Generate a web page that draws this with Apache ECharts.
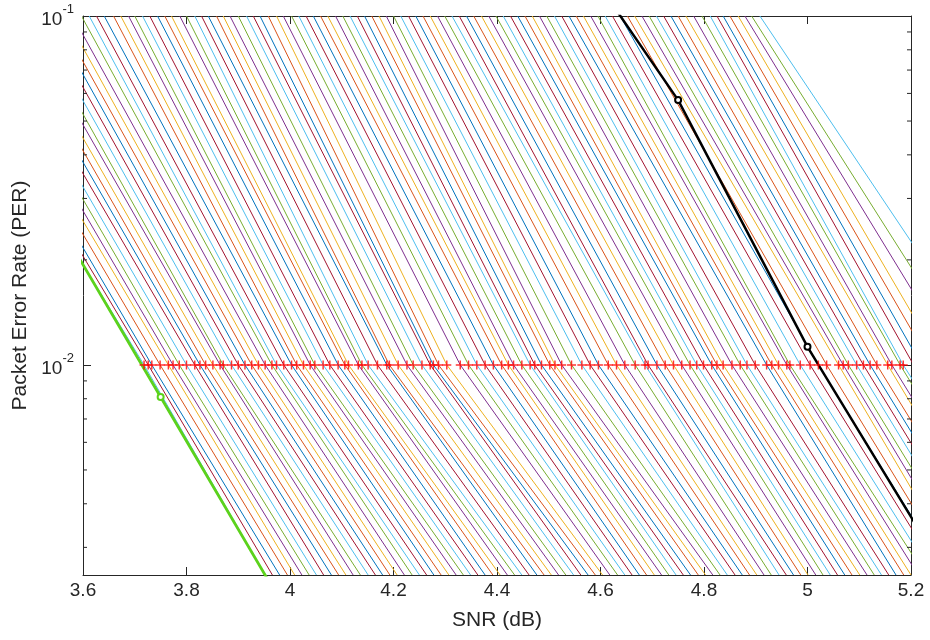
<!DOCTYPE html>
<html>
<head>
<meta charset="utf-8">
<script src="https://cdn.jsdelivr.net/npm/echarts/dist/echarts.min.js"></script>
<style>
html,body{margin:0;padding:0;background:#fff;}
#chart{width:930px;height:640px;}
</style>
</head>
<body>
<div id="chart"></div>
<script>
// ===== data =====
// each curve: SNR where it crosses PER = 0.1, 0.01 (red +) and 0.0025
const perTop = 0.1, perMid = 0.01, perBot = 0.0025;

const snrTop = [3.308,3.322,3.337,3.351,3.365,3.380,3.394,3.408,3.422,3.437,3.451,3.465,3.480,3.494,3.508,3.523,3.537,3.551,3.566,3.580,
  3.597,3.612,3.626,3.641,3.659,3.673,3.688,3.700,3.715,3.729,3.744,3.758,3.771,3.787,3.800,3.816,3.829,3.842,3.858,3.871,3.884,3.900,3.916,3.929,3.942,3.958,3.974,3.987,4.003,
  4.017,4.031,4.045,4.059,4.073,4.088,4.102,4.116,4.130,4.144,4.158,4.172,4.186,4.200,4.214,4.229,4.243,4.257,4.271,4.285,4.299,4.313,4.327,4.341,4.355,4.370,4.384,4.398,4.412,4.426,4.440,4.454,4.468,4.482,4.496,4.511,4.525,4.539,4.553,4.567,4.581,4.595,4.609,4.623,
  4.638,4.652,4.666,4.680,4.694,4.708,4.722,4.736,4.750,4.765,4.780,4.796,
  4.812,4.825,4.837,4.850,4.866,4.879,4.892,4.908];

const snrMid = [3.718,3.726,3.733,3.749,3.765,3.774,3.786,3.800,3.816,3.826,3.837,3.851,3.865,3.871,3.887,3.900,3.913,3.926,3.939,3.952,3.965,3.974,3.988,
  4.003,4.013,4.026,4.039,4.048,4.064,4.077,4.093,4.106,4.113,4.132,4.139,4.151,4.169,4.187,4.192,4.209,4.226,4.238,4.255,4.271,4.277,4.287,4.303,4.329,4.345,4.361,4.377,4.393,
  4.409,4.422,4.432,4.448,4.464,4.473,4.486,4.502,4.512,4.525,4.544,4.564,4.580,4.596,4.615,4.631,4.647,4.667,4.686,4.692,4.709,4.725,4.741,4.757,4.773,4.786,4.799,
  4.815,4.825,4.837,4.854,4.870,4.883,4.899,4.921,4.931,4.944,4.960,4.966,4.986,5.005,5.021,5.037,5.060,5.069,5.079,5.095,5.108,5.121,5.134,5.155,5.163,5.179,5.185,
  5.205,5.22,5.24,5.26,5.29,5.32,5.36];

const snrBot = [3.952,3.966,3.980,3.995,4.009,4.023,4.037,4.051,4.065,4.080,4.094,4.108,4.122,4.136,4.151,4.165,4.179,4.193,4.207,4.221,
  4.236,4.250,4.264,4.278,4.292,4.307,4.321,4.335,4.349,4.363,4.377,4.392,4.406,4.420,4.434,4.448,4.462,4.477,4.491,4.505,
  4.519,4.533,4.548,4.562,4.576,4.590,4.604,4.618,4.633,4.647,4.661,4.675,4.689,4.704,4.718,4.732,4.746,4.760,4.774,4.789,
  4.803,4.817,4.831,4.845,4.860,4.874,4.888,4.902,4.916,4.930,4.945,4.959,4.973,4.987,5.001,5.016,5.030,5.044,5.058,5.072,
  5.086,5.101,5.115,5.129,5.143,5.157,5.171,5.186,5.200,5.214,5.228,5.242,5.257,5.271,5.285,5.299,5.313,5.328,5.342,5.356,
  5.370,5.384,5.398,5.413,5.427,5.441,5.455,5.469,5.484,5.498,5.512,5.526,5.540];

// highlighted curves (markers at 0.25 dB grid)
const bestSnr = [3.5, 3.75, 4.0];
const bestPer = [0.0347, 0.00809, 0.00189];
const refSnr = [4.5, 4.75, 5.0, 5.25];
const refPer = [0.199, 0.0574, 0.01127, 0.00277];

const xTicks = [3.6, 3.8, 4.0, 4.2, 4.4, 4.6, 4.8, 5.0, 5.2];
const minorPer = [0.003,0.004,0.005,0.006,0.007,0.008,0.009,0.02,0.03,0.04,0.05,0.06,0.07,0.08,0.09];

// MATLAB default colour order
const colorOrder = ['#0072BD','#D95319','#EDB120','#7E2F8E','#77AC30','#4DBEEE','#A2142F'];
const axisCol = '#262626';
const FONT = '"Liberation Sans", Arial, Helvetica, sans-serif';

const chart = echarts.init(document.getElementById('chart'));

const series = [];
snrTop.forEach((t, i) => {
    series.push({
        type:'line', silent:true, symbol:'none', clip:true, z:2,
        lineStyle:{width:1, color:colorOrder[(i + 5) % 7]},
        data:[[t, perTop], [snrMid[i], perMid], [snrBot[i], perBot]]
    });
});
series.push({
    type:'line', silent:true, clip:true, z:4,
    symbol:'emptyCircle', symbolSize:6,
    lineStyle:{width:2.8, color:'#5CD21C'},
    itemStyle:{color:'#5CD21C', borderWidth:1.5},
    data: bestSnr.map((s, k) => [s, bestPer[k]])
});
series.push({
    type:'line', silent:true, clip:true, z:4,
    symbol:'emptyCircle', symbolSize:6,
    lineStyle:{width:2.5, color:'#000'},
    itemStyle:{color:'#000', borderWidth:1.5},
    data: refSnr.map((s, k) => [s, refPer[k]])
});
series.push({
    type:'scatter', silent:true, clip:true, z:5,
    symbol:'path://M0,3.35H8V4.65H0ZM3.35,0H4.65V8H3.35Z', symbolSize:9,
    itemStyle:{color:'#FF0000'},
    data: snrMid.map(s => [s, perMid])
});
// minor log ticks on left and right edges
series.push({
    type:'custom', silent:true, z:6, clip:false,
    renderItem: (params, api) => {
        const l = api.coord([xTicks[0], api.value(1)]);
        const r = api.coord([xTicks[xTicks.length - 1], api.value(1)]);
        const st = {stroke:axisCol, lineWidth:1};
        return {type:'group', children:[
            {type:'line', shape:{x1:l[0], y1:l[1], x2:l[0] + 4, y2:l[1]}, style:st},
            {type:'line', shape:{x1:r[0], y1:r[1], x2:r[0] - 4, y2:r[1]}, style:st}
        ]};
    },
    data: minorPer.map(v => [xTicks[0], v])
});

const xCommon = {
    type:'value', min:xTicks[0], max:xTicks[xTicks.length - 1], interval:0.2,
    axisLine:{show:true, onZero:false, lineStyle:{color:axisCol, width:1}},
    axisTick:{show:true, inside:true, length:8, lineStyle:{color:axisCol}},
    splitLine:{show:false}
};
const yCommon = {
    type:'log', logBase:10, min:perBot, max:perTop,
    axisLine:{show:true, onZero:false, lineStyle:{color:axisCol, width:1}},
    axisTick:{show:true, inside:true, length:8, lineStyle:{color:axisCol}},
    splitLine:{show:false}, minorTick:{show:false}
};

chart.setOption({
    animation:false,
    backgroundColor:'#fff',
    grid:{left:83, right:19, top:16, bottom:65},
    xAxis:[
        Object.assign({}, xCommon, {
            position:'bottom',
            name:'SNR (dB)', nameLocation:'middle', nameGap:35,
            nameTextStyle:{fontSize:21, color:axisCol, fontFamily:FONT},
            axisLabel:{fontSize:19, color:axisCol, fontFamily:FONT, margin:6,
                formatter: v => String(+v.toFixed(1))}
        }),
        Object.assign({}, xCommon, {position:'top', axisLabel:{show:false}})
    ],
    yAxis:[
        Object.assign({}, yCommon, {
            position:'left',
            name:'Packet Error Rate (PER)', nameLocation:'middle', nameGap:52,
            nameTextStyle:{fontSize:21, color:axisCol, fontFamily:FONT},
            axisLabel:{margin:9, color:axisCol, fontFamily:FONT,
                formatter: v => {
                    const e = Math.log10(v), r = Math.round(e);
                    if (Math.abs(e - r) > 1e-6) return '';
                    return '{b|10}{s|' + r + '}';
                },
                rich:{
                    b:{fontSize:19, color:axisCol, fontFamily:FONT, padding:[8,0,0,0]},
                    s:{fontSize:13, color:axisCol, fontFamily:FONT, verticalAlign:'top'}
                }}
        }),
        Object.assign({}, yCommon, {position:'right', axisLabel:{show:false}})
    ],
    series: series
});
</script>
</body>
</html>
